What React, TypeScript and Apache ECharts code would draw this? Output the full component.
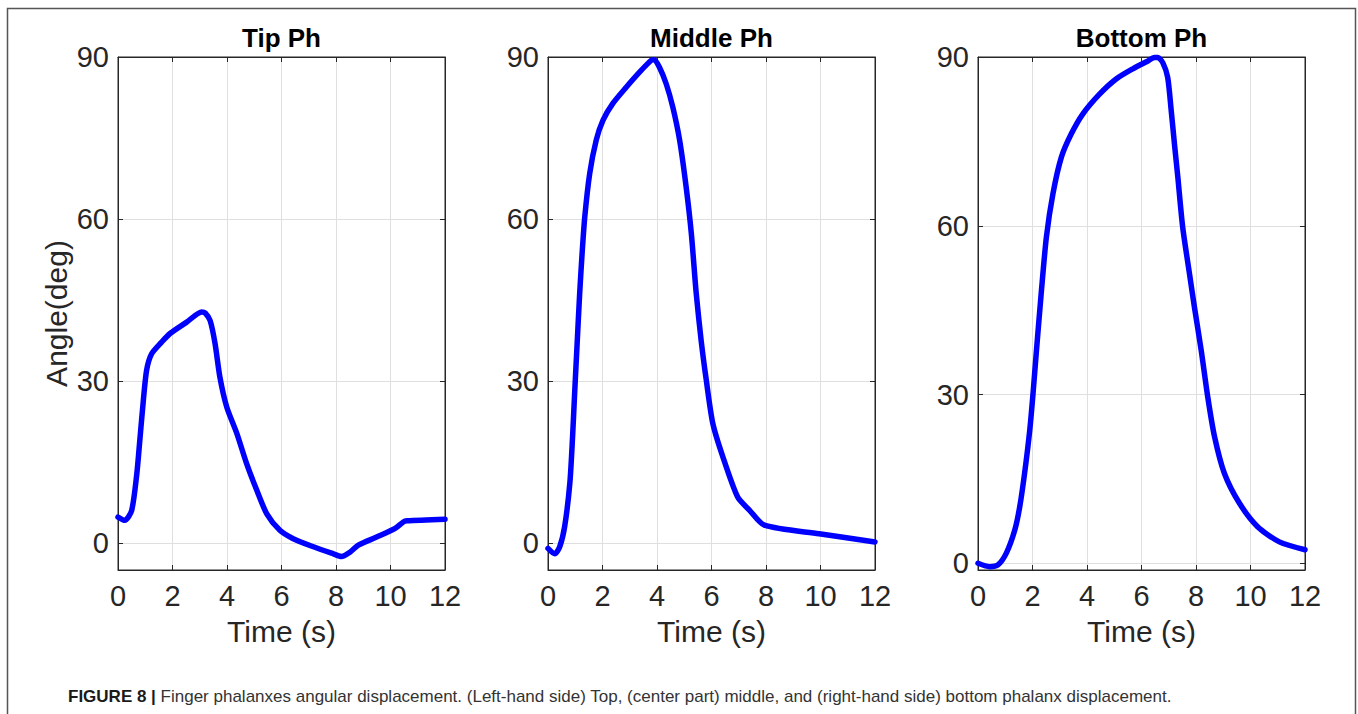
import React, { useEffect, useRef } from 'react';
import * as echarts from 'echarts';

const panelTitles = ['Tip Ph', 'Middle Ph', 'Bottom Ph'];
const xTickLabels = [0, 2, 4, 6, 8, 10, 12];
const yTickLabels = [0, 30, 60, 90];
const yMins = [-5, -5, -1.2];
const yMax = 90;
const xMax = 12;

const tipTime = [0, 0.25, 0.5, 0.69, 0.8, 0.93, 1.05, 1.23, 1.6, 1.91, 2.52, 3.07, 3.2, 3.38, 3.56, 3.74, 3.99, 4.36, 4.72, 5.09, 5.46, 5.94, 6.43, 7.17, 7.9, 8.2, 8.51, 8.82, 9.49, 10.17, 10.47, 10.6, 12];
const tipAngle = [4.8, 4.2, 6, 12.8, 19, 26.4, 32, 35, 37.2, 38.8, 40.9, 42.8, 42.6, 41.2, 37, 30.7, 25.2, 20.3, 14.7, 9.8, 5.4, 2.35, 0.8, -0.7, -2.0, -2.5, -1.7, -0.4, 1.1, 2.7, 3.9, 4.1, 4.4];

const middleTime = [0, 0.25, 0.43, 0.61, 0.8, 0.9, 0.98, 1.07, 1.16, 1.25, 1.35, 1.53, 1.77, 2.02, 2.38, 2.87, 3.36, 3.79, 3.9, 4.09, 4.34, 4.58, 4.83, 5.07, 5.26, 5.44, 5.62, 5.81, 6.05, 6.42, 6.96, 7.39, 7.94, 9.95, 12];
const middleAngle = [-1.0, -2.0, -0.7, 3.0, 11, 19.5, 28, 37, 46, 53.5, 60.4, 68.4, 74.6, 78.3, 81.4, 84.4, 87.2, 89.4, 89.5, 88.1, 85, 80.7, 74.6, 65.9, 57.3, 46.2, 37.5, 30.1, 22.1, 15.9, 8.5, 6.1, 3.3, 1.7, 0.2];

const bottomTime = [0, 0.43, 0.73, 1.04, 1.35, 1.53, 1.71, 1.9, 2.02, 2.14, 2.32, 2.51, 2.75, 3.06, 3.42, 3.85, 4.46, 5.07, 5.68, 6.2, 6.48, 6.6, 6.78, 6.96, 7.09, 7.21, 7.33, 7.51, 7.76, 7.94, 8.19, 8.43, 8.68, 9.04, 9.59, 10.26, 11.06, 12];
const bottomAngle = [0, -0.6, -0.3, 1.8, 5.9, 10, 16, 23.7, 30.2, 37.5, 48, 58, 65.7, 72.2, 76.3, 79.9, 83.4, 86.1, 87.9, 89.2, 89.9, 89.9, 89.0, 86.4, 80.5, 74.5, 68.8, 59.8, 51.5, 45.6, 37.9, 29.6, 22.5, 16, 10.7, 6.5, 3.8, 2.4];

const captionBold = 'FIGURE 8 |';
const captionText = 'Finger phalanxes angular displacement. (Left-hand side) Top, (center part) middle, and (right-hand side) bottom phalanx displacement.';

const seriesTimes = [tipTime, middleTime, bottomTime];
const seriesAngles = [tipAngle, middleAngle, bottomAngle];

const FONT = "'Liberation Sans', Arial, Helvetica, sans-serif";
const AXIS_COLOR = '#262626';
const GRID_COLOR = '#dfdfdf';

export default function App() {
  const ref = useRef<HTMLDivElement>(null);

  useEffect(() => {
    if (!ref.current) return;
    const chart = echarts.init(ref.current, null, { renderer: 'svg' });

    const lefts = [118, 548, 978];
    const gridTop = 57;
    const gridW = 327;
    const gridH = 513;

    const grids: any[] = [];
    const xAxes: any[] = [];
    const yAxes: any[] = [];
    const series: any[] = [];
    const titles: any[] = [];

    for (let i = 0; i < 3; i++) {
      grids.push({
        left: lefts[i], top: gridTop, width: gridW, height: gridH,
        show: true, borderColor: AXIS_COLOR, borderWidth: 1, backgroundColor: '#fff',
      });
      titles.push({
        text: panelTitles[i],
        left: lefts[i] + gridW / 2,
        top: 25,
        padding: 0,
        textAlign: 'center',
        textStyle: { fontFamily: FONT, fontSize: 26, fontWeight: 'bold', color: '#000' },
      });
      // bottom x axis
      xAxes.push({
        type: 'value', gridIndex: i, position: 'bottom', min: 0, max: xMax, interval: 2,
        name: 'Time (s)', nameLocation: 'middle', nameGap: 46,
        nameTextStyle: { fontFamily: FONT, fontSize: 30, color: AXIS_COLOR },
        axisLine: { show: true, onZero: false, lineStyle: { color: AXIS_COLOR, width: 1 } },
        axisTick: { show: true, inside: true, length: 5, lineStyle: { color: AXIS_COLOR } },
        axisLabel: {
          show: true, margin: 11, fontFamily: FONT, fontSize: 29, color: AXIS_COLOR,
          customValues: xTickLabels,
        },
        splitLine: { show: true, lineStyle: { color: GRID_COLOR, width: 1 } },
      });
      // top x axis (box ticks)
      xAxes.push({
        type: 'value', gridIndex: i, position: 'top', min: 0, max: xMax, interval: 2,
        axisLine: { show: true, onZero: false, lineStyle: { color: AXIS_COLOR, width: 1 } },
        axisTick: { show: true, inside: true, length: 5, lineStyle: { color: AXIS_COLOR } },
        axisLabel: { show: false },
        splitLine: { show: false },
      });
      // left y axis
      yAxes.push({
        type: 'value', gridIndex: i, position: 'left', min: yMins[i], max: yMax,
        name: i === 0 ? 'Angle(deg)' : '', nameLocation: 'middle', nameGap: 47,
        nameTextStyle: { fontFamily: FONT, fontSize: 30, color: AXIS_COLOR },
        axisLine: { show: true, onZero: false, lineStyle: { color: AXIS_COLOR, width: 1 } },
        axisTick: { show: true, inside: true, length: 5, lineStyle: { color: AXIS_COLOR }, customValues: yTickLabels },
        axisLabel: {
          show: true, margin: 9, fontFamily: FONT, fontSize: 29, color: AXIS_COLOR,
          customValues: yTickLabels,
        },
        splitLine: { show: true, lineStyle: { color: GRID_COLOR, width: 1 } },
      });
      // right y axis (box ticks)
      yAxes.push({
        type: 'value', gridIndex: i, position: 'right', min: yMins[i], max: yMax,
        axisLine: { show: true, onZero: false, lineStyle: { color: AXIS_COLOR, width: 1 } },
        axisTick: { show: true, inside: true, length: 5, lineStyle: { color: AXIS_COLOR }, customValues: yTickLabels },
        axisLabel: { show: false },
        splitLine: { show: false },
      });

      const data = seriesTimes[i].map((t, k) => [t, seriesAngles[i][k]]);
      series.push({
        type: 'line',
        xAxisIndex: i * 2,
        yAxisIndex: i * 2,
        data,
        showSymbol: false,
        symbol: 'none',
        smooth: 0.25,
        z: 10,
        clip: false,
        lineStyle: { color: '#0000ff', width: 5.5, join: 'round', cap: 'round' },
      });
    }

    const option: any = {
      animation: false,
      backgroundColor: '#fff',
      title: titles,
      grid: grids,
      xAxis: xAxes,
      yAxis: yAxes,
      series,
      graphic: [
        {
          type: 'rect',
          shape: { x: 7.5, y: 8.5, width: 1348, height: 730 },
          style: { fill: 'none', stroke: '#555', lineWidth: 1.5 },
          silent: true,
          z: -1,
        },
        {
          type: 'text',
          x: 68,
          y: 696,
          style: {
            text: '{b|' + captionBold + '} ' + captionText,
            fontFamily: FONT,
            fontSize: 17,
            fill: '#333',
            verticalAlign: 'middle',
            rich: {
              b: { fontFamily: FONT, fontSize: 17, fontWeight: 'bold', fill: '#1a1a1a' },
            },
          },
          silent: true,
        },
      ],
    };

    chart.setOption(option);
    return () => chart.dispose();
  }, []);

  return (
    <div
      ref={ref}
      style={{ position: 'absolute', left: 0, top: 0, width: 1358, height: 714, background: '#fff' }}
    />
  );
}
